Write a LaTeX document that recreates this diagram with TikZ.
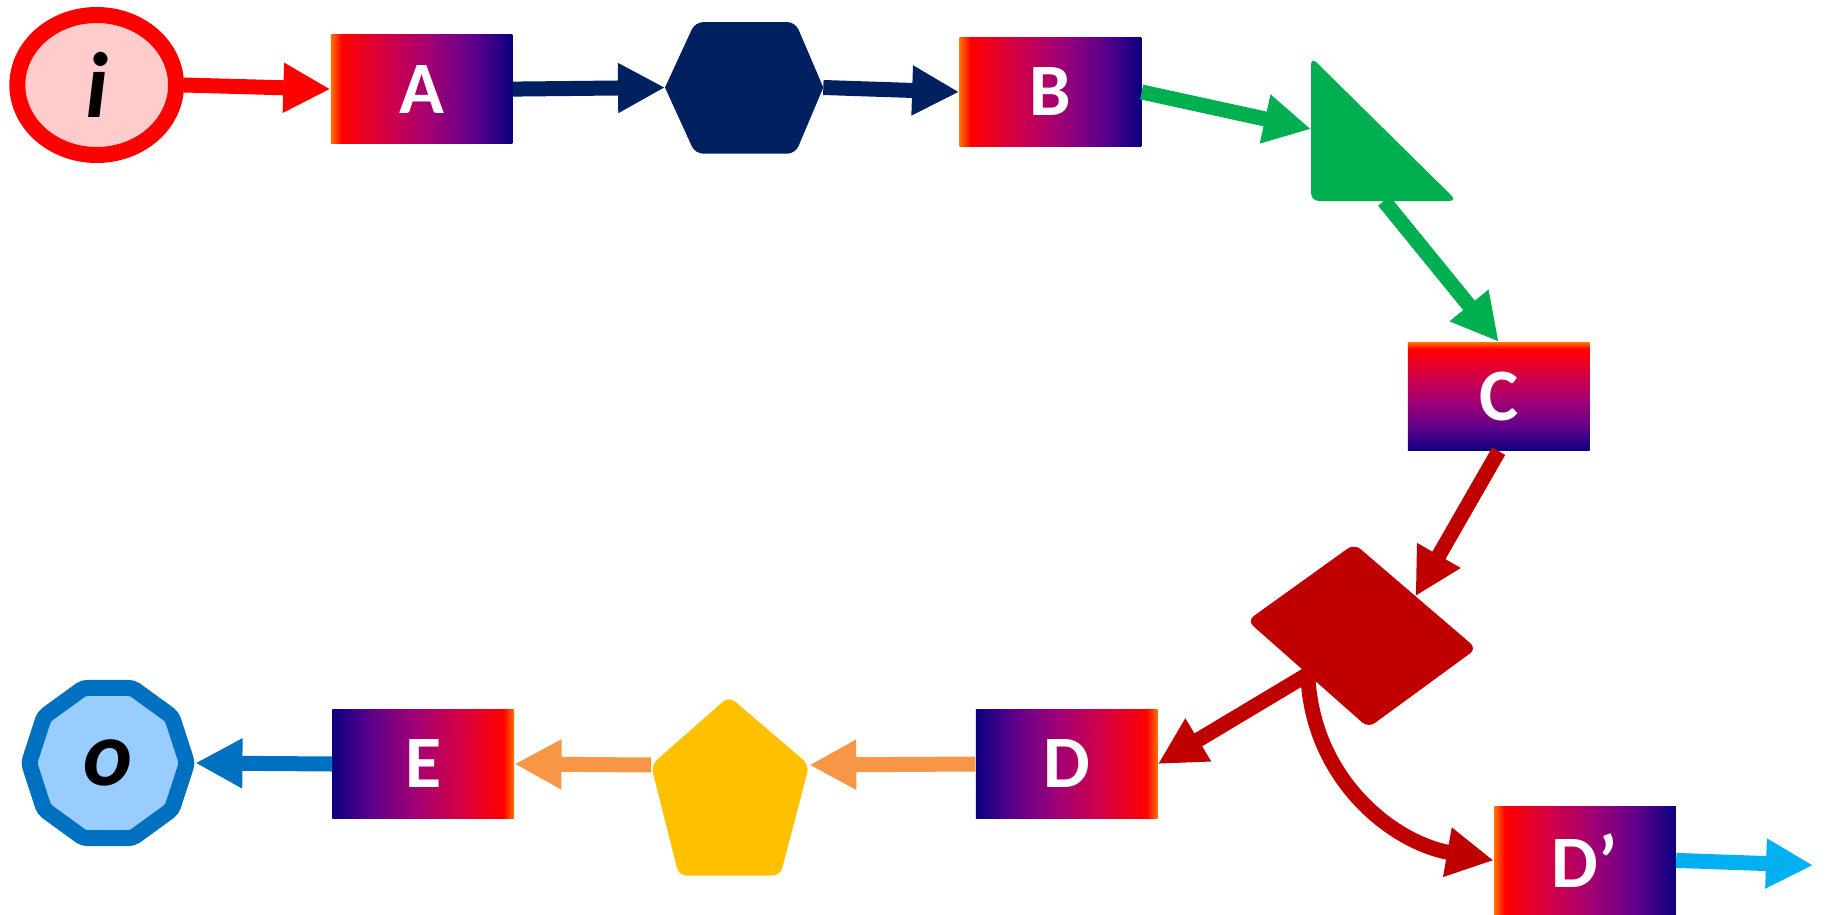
\documentclass[tikz,border=0pt]{standalone}
\usepackage{fontspec}
\setmainfont{Carlito}
\usetikzlibrary{arrows.meta,shapes.geometric}

% palette
\definecolor{cRed}{RGB}{255,0,0}
\definecolor{cPink}{RGB}{255,204,204}
\definecolor{cDark}{RGB}{0,32,96}
\definecolor{cGreen}{RGB}{0,176,80}
\definecolor{cDarkRed}{RGB}{192,0,0}
\definecolor{cOrange}{RGB}{247,150,70}
\definecolor{cYellow}{RGB}{255,192,0}
\definecolor{cBlue}{RGB}{0,112,192}
\definecolor{cSky}{RGB}{153,204,255}
\definecolor{cCyan}{RGB}{0,176,240}

% gradient stops of the process boxes
\definecolor{gOrange}{RGB}{255,115,0}
\definecolor{gRed}{RGB}{255,0,0}
\definecolor{gCrimson}{RGB}{212,0,68}
\definecolor{gMagenta}{RGB}{160,0,118}
\definecolor{gPurple}{RGB}{90,0,140}
\definecolor{gNavy}{RGB}{10,0,128}

% the box occupies the middle 50bp of each shading
\pgfdeclarehorizontalshading{warmleft}{100bp}{color(0bp)=(gOrange); color(25bp)=(gOrange); color(28bp)=(gRed); color(40bp)=(gCrimson); color(52.5bp)=(gMagenta); color(65bp)=(gPurple); color(75bp)=(gNavy); color(100bp)=(gNavy)}
\pgfdeclarehorizontalshading{warmright}{100bp}{color(0bp)=(gNavy); color(25bp)=(gNavy); color(35bp)=(gPurple); color(47.5bp)=(gMagenta); color(60bp)=(gCrimson); color(72bp)=(gRed); color(75bp)=(gOrange); color(100bp)=(gOrange)}
\pgfdeclareverticalshading{warmtop}{100bp}{color(0bp)=(gNavy); color(25bp)=(gNavy); color(35bp)=(gPurple); color(47.5bp)=(gMagenta); color(60bp)=(gCrimson); color(72bp)=(gRed); color(75bp)=(gOrange); color(100bp)=(gOrange)}

\tikzset{
  box/.style={rectangle, shade, minimum width=90.85pt, minimum height=54.25pt,
    inner sep=0pt, text=white, font=\fontsize{37}{40}\selectfont\bfseries},
  terminal/.style={inner sep=0pt, line width=8pt, text=black,
    font=\fontsize{46.5}{50}\selectfont\bfseries\itshape},
  link/.style={line width=7.5pt, -{Triangle[length=23.5pt,width=23.5pt]}},
  blob/.style={rounded corners=4pt},
}

\begin{document}
\begin{tikzpicture}[x=0.5pt,y=-0.5pt]
\useasboundingbox (0,0) rectangle (1826,915);

% start and end terminals
\node[terminal, ellipse, draw=cRed, fill=cPink, minimum width=79.35pt, minimum height=70pt] (i) at (96.7,85) {i};
\node[terminal, regular polygon, regular polygon sides=10, draw=cBlue, fill=cSky, minimum size=79pt, rounded corners=2pt] (o) at (108,763) {o};

% process boxes
\node[box, shading=warmleft]  (A)  at (421.6,89.1)  {A};
\node[box, shading=warmleft]  (B)  at (1050.4,92)   {B};
\node[box, shading=warmtop]   (C)  at (1498.7,396.5) {C};
\node[box, shading=warmright] (D)  at (1066.7,764)  {D};
\node[box, shading=warmright] (E)  at (423.3,764)   {E};
\node[box, shading=warmleft]  (Dp) at (1584.9,860.4) {D’};

% hexagon, pointed at its left and right corners
\fill[cDark] (665,87.5) [rounded corners=4pt] -- (695.2,22.1) -- (795.3,22.1) [sharp corners] -- (823.3,87.5) [rounded corners=4pt] -- (795.3,153.7) -- (695.2,153.7) [sharp corners] -- cycle;
\coordinate (hexL) at (665,87.5);
\coordinate (hexR) at (823.3,87.5);

% right triangle
\fill[cGreen, blob] (1311,57) -- (1457,201) -- (1311,201) -- cycle;
\coordinate (triW) at (1311,129);
\coordinate (triS) at (1384,201);

% tilted square
\fill[cDarkRed, blob] (1354.3,543.8) -- (1476.6,648.6) -- (1368.3,727.8) -- (1247.2,620.7) -- cycle;
\coordinate (dmNE) at (1415.5,596.2);
\coordinate (dmSW) at (1307.8,674.3);

% pentagon
\fill[cYellow, blob] (729,696.4) -- (809.3,765) -- (780.2,875.7) -- (678.9,875.7) -- (651,765) -- cycle;
\coordinate (pentE) at (809.3,765);
\coordinate (pentW) at (651,765);

\coordinate (out) at (1813,865.2);

% connectors
\draw[link, cRed]     (i.east) -- (A.west);
\draw[link, cDark]    (A.east) -- (hexL);
\draw[link, cDark]    (hexR) -- (B.west);
\draw[link, cGreen]   (B.east) -- (triW);
\draw[link, cGreen]   (triS) -- (C.north);
\draw[link, cDarkRed] (C.south) -- (dmNE);
\draw[link, cDarkRed] (dmSW) -- (D.east);
\draw[link, cDarkRed] (dmSW) .. controls +(4,104) and +(-102,-18) .. (Dp.west);
\draw[link, cOrange]  (D.west) -- (pentE);
\draw[link, cOrange]  (pentW) -- (E.east);
\draw[link, cBlue]    (E.west) -- (o.east);
\draw[link, cCyan]    (Dp.east) -- (out);
\end{tikzpicture}
\end{document}
